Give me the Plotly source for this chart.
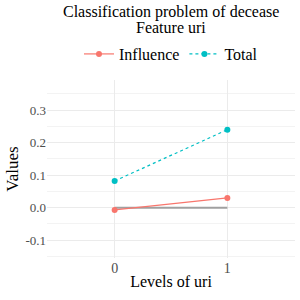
import plotly.graph_objects as go

levels = [0, 1]
influence = [-0.007, 0.030]
total = [0.082, 0.240]
baseline = [0.0, 0.0]
ytick_vals = [-0.1, 0.0, 0.1, 0.2, 0.3]
ytick_text = ["-0.1", "0.0", "0.1", "0.2", "0.3"]
xtick_vals = [0, 1]
xtick_text = ["0", "1"]

FONT = "Liberation Serif"

fig = go.Figure()
fig.add_trace(go.Scatter(x=levels, y=baseline, mode="lines",
                         line=dict(color="#A0A0A0", width=2), showlegend=False,
                         hoverinfo="skip"))
fig.add_trace(go.Scatter(x=levels, y=influence, mode="lines+markers", name="Influence",
                         line=dict(color="#F8766D", width=1.2),
                         marker=dict(color="#F8766D", size=6)))
fig.add_trace(go.Scatter(x=levels, y=total, mode="lines+markers", name="Total",
                         line=dict(color="#00BFC4", width=1.2, dash="dot"),
                         marker=dict(color="#00BFC4", size=6)))

fig.update_layout(
    width=300, height=300,
    margin=dict(l=47, r=5, t=80, b=42, autoexpand=False),
    paper_bgcolor="white", plot_bgcolor="white",
    font=dict(family=FONT, color="black", size=14),
    legend=dict(orientation="h", x=0.5, xanchor="center", y=1.146, yanchor="middle",
                font=dict(family=FONT, size=16, color="black"),
                itemwidth=30, tracegroupgap=0),
    xaxis=dict(range=[-0.6, 1.6], tickvals=xtick_vals, ticktext=xtick_text,
               showgrid=True, gridcolor="#EBEBEB", gridwidth=1, zeroline=False,
               ticks="", automargin=False,
               tickfont=dict(family=FONT, size=14, color="#4D4D4D"),
               title=dict(text="Levels of uri", font=dict(family=FONT, size=16, color="black"),
                          standoff=0)),
    yaxis=dict(range=[-0.155, 0.393], tickvals=ytick_vals, ticktext=ytick_text,
               showgrid=True, gridcolor="#EBEBEB", gridwidth=1, zeroline=False,
               minor=dict(tickvals=[-0.15, -0.05, 0.05, 0.15, 0.25, 0.35],
                          showgrid=True, gridcolor="#F3F3F3", gridwidth=1),
               ticks="", automargin=False,
               tickfont=dict(family=FONT, size=13, color="#4D4D4D"),
               title=dict(text="Values", font=dict(family=FONT, size=17, color="black"),
                          standoff=2)),
    annotations=[
        dict(text="Classification problem of decease", xref="paper", yref="paper",
             x=0.5, y=1.0 + 68 / 178, xanchor="center", yanchor="middle", showarrow=False,
             font=dict(family=FONT, size=16, color="black")),
        dict(text="Feature uri", xref="paper", yref="paper",
             x=0.5, y=1.0 + 53 / 178, xanchor="center", yanchor="middle", showarrow=False,
             font=dict(family=FONT, size=16, color="black")),
    ],
)

fig.write_html("out.html", config={"displayModeBar": False},
               post_script="document.body.style.margin='0';document.body.style.overflow='hidden';")
